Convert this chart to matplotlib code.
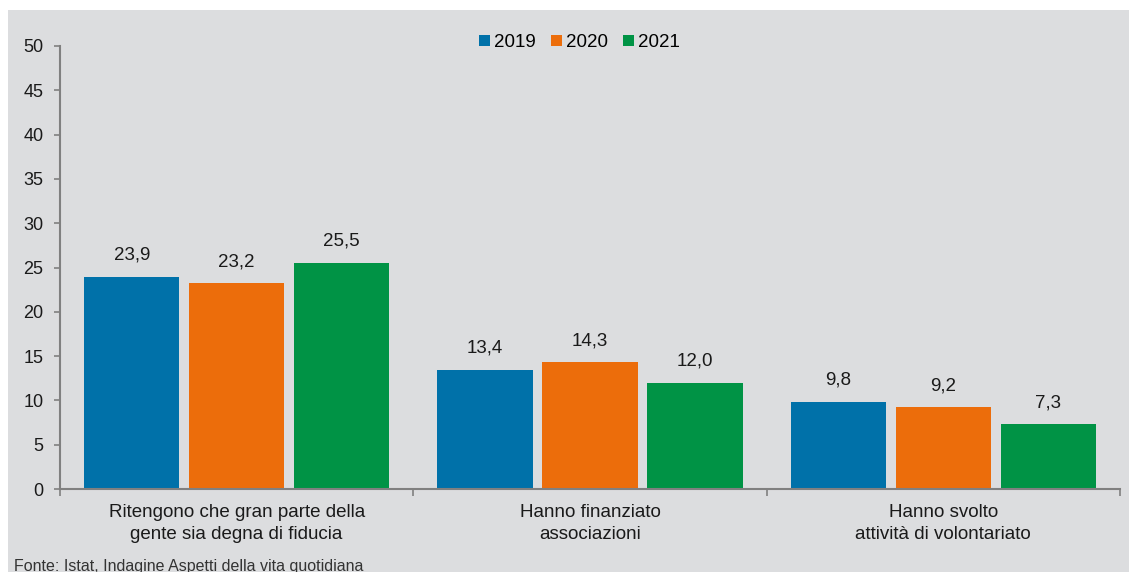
import matplotlib
matplotlib.use('Agg')
import matplotlib.pyplot as plt
import matplotlib.patches as mpatches
import numpy as np

categories = ['Ritengono che gran parte della\ngente sia degna di fiducia',
              'Hanno finanziato\nassociazioni',
              'Hanno svolto\nattività di volontariato']
years = ['2019', '2020', '2021']
v2019 = [23.9, 13.4, 9.8]
v2020 = [23.2, 14.3, 9.2]
v2021 = [25.5, 12.0, 7.3]
series = [v2019, v2020, v2021]

BG = '#dcdddf'
COLORS = ['#0071a9', '#ec6d0b', '#009345']
TXT = '#1a1a1a'
AXC = '#808080'

plt.rcParams['font.family'] = ['Liberation Sans', 'DejaVu Sans']

fig = plt.figure(figsize=(11.29, 5.72), dpi=100, facecolor='white')
fig.patches.append(mpatches.Rectangle((8 / 1129, 0), 1 - 8 / 1129, 1 - 10 / 572,
                                      transform=fig.transFigure, facecolor=BG,
                                      edgecolor='none', zorder=-10))

ax = fig.add_axes([60 / 1129, 1 - 489 / 572, 1060 / 1129, 443 / 572])
ax.set_facecolor('none')

x = np.arange(len(categories))
step = 0.297
width = 0.27
for i, (vals, yr, col) in enumerate(zip(series, years, COLORS)):
    pos = x + (i - 1) * step
    ax.bar(pos, vals, width=width, color=col, label=yr, zorder=2)
    for p, v in zip(pos, vals):
        ax.text(p, v + 1.5, f'{v:.1f}'.replace('.', ','), ha='center', va='bottom',
                fontsize=13.5, color=TXT)

ax.set_xlim(-0.5, len(categories) - 0.5)
ax.set_ylim(0, 50)
ax.set_yticks(range(0, 51, 5))
ax.tick_params(axis='y', labelsize=13, colors=AXC, labelcolor=TXT, length=4, width=1.2, pad=8)

ax.set_xticks(x)
ax.set_xticklabels(categories, fontsize=13.5, color=TXT, linespacing=1.4)
ax.tick_params(axis='x', length=0, pad=11)
ax.set_xticks(np.arange(-0.5, len(categories)), minor=True)
ax.tick_params(axis='x', which='minor', length=5, width=1.2, colors=AXC)

for s in ['top', 'right']:
    ax.spines[s].set_visible(False)
for s in ['left', 'bottom']:
    ax.spines[s].set_color(AXC)
    ax.spines[s].set_linewidth(1.5)

ax.legend(loc='upper center', bbox_to_anchor=(0.49, 1.065), ncol=3, frameon=False,
          fontsize=13.5, handlelength=0.6, handleheight=0.6, handletextpad=0.2,
          columnspacing=0.8)

fig.text(14 / 1129, 1 - 566 / 572, 'Fonte: Istat, Indagine Aspetti della vita quotidiana',
         fontsize=11.5, color='#333333', va='center', ha='left',
         family=['Liberation Sans Narrow', 'Liberation Sans', 'DejaVu Sans'])

plt.savefig('out.png', dpi=100, facecolor='white')
